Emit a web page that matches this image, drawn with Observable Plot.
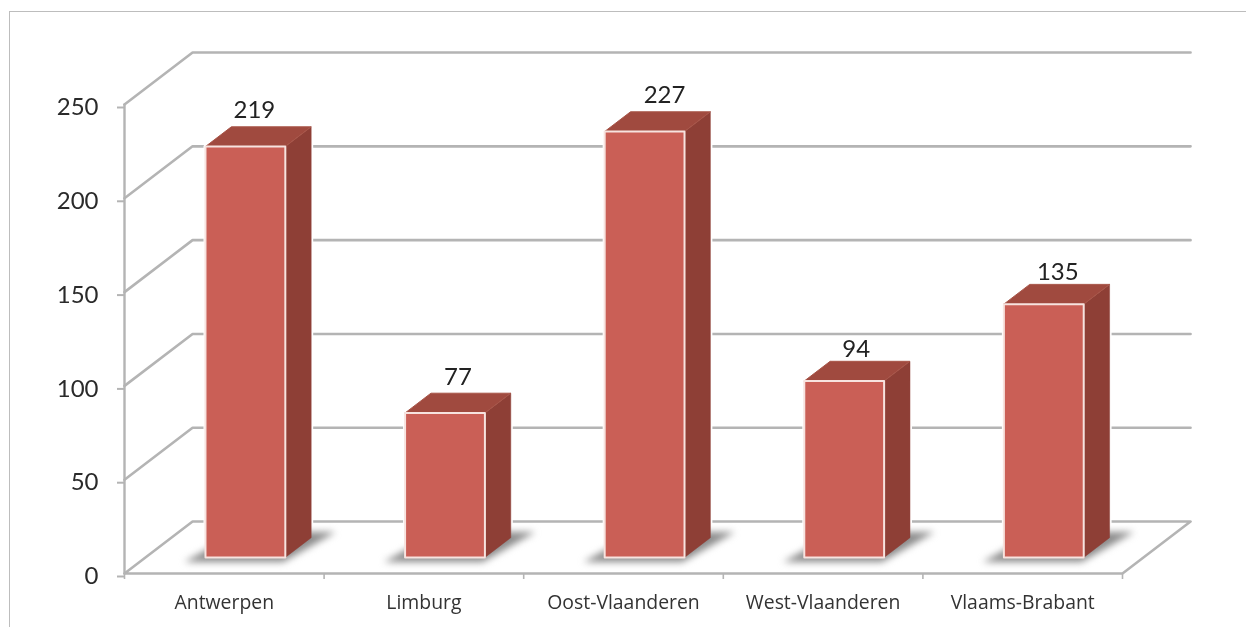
<!DOCTYPE html>
<html>
<head>
<meta charset="utf-8">
<script src="https://cdn.jsdelivr.net/npm/d3@7"></script>
<script src="https://cdn.jsdelivr.net/npm/@observablehq/plot@0.6"></script>
<style>
html,body{margin:0;padding:0;background:#fff;overflow:hidden}
#wrap{position:relative;width:1246px;height:627px;overflow:hidden}
#edge{position:absolute;left:9px;top:11px;width:1300px;height:700px;border-left:1.5px solid #bdbdbd;border-top:1.5px solid #bdbdbd}
#chart{position:absolute;left:0;top:0;filter:blur(0.7px)}
svg{display:block;background:transparent}
</style>
</head>
<body>
<div id="wrap"><div id="edge"></div><div id="chart"></div></div>
<script>
const provinces = ["Antwerpen", "Limburg", "Oost-Vlaanderen", "West-Vlaanderen", "Vlaams-Brabant"];
const counts = [219, 77, 227, 94, 135];
const valueTicks = [0, 50, 100, 150, 200, 250];
const labelShift = [0.045, 0.065, 0.1, 0.06, 0.07];
const labelLift = [0, 0, 0, -2.5, -2.2];

// Oblique projection: a point at category u, value v and depth d (0 front, 1 back)
const DX = 0.341, DY = 27.7;
const P = (u, v, d) => ({x: u + d * DX, y: v + d * DY});
const poly = (id, pts) => pts.concat([pts[0]]).map(p => ({...p, id}));

const n = provinces.length;
const grid = [];
valueTicks.forEach(v => {
  if (v === 0) return;
  grid.push(...[P(0, v, 0), P(0, v, 1), P(n, v, 1)].map(p => ({...p, id: v})));
});
const floor = poly("floor", [P(0, 0, 0), P(n, 0, 0), P(n, 0, 1), P(0, 0, 1)]);
const wall = [P(0, 0, 0), P(0, 250, 0)].map(p => ({...p, id: "wall"}));

const d0 = 0.31, d1 = 0.69, u0 = 0.3, u1 = 0.7;
const shadow = [], front = [], side = [], top_ = [], halo = [];
counts.forEach((v, i) => {
  const a = i + u0, b = i + u1;
  shadow.push(...poly(i, [P(i + 0.225, 0, 0.22), P(i + 0.72, 0, 0.22), P(i + 0.785, 0, 0.8), P(i + 0.3, 0, 0.8)]));
  front.push(...poly(i, [P(a, 0, d0), P(b, 0, d0), P(b, v, d0), P(a, v, d0)]));
  side.push(...poly(i, [P(b, 0, d0), P(b, 0, d1), P(b, v, d1), P(b, v, d0)]));
  top_.push(...poly(i, [P(a, v, d0), P(b, v, d0), P(b, v, d1), P(a, v, d1)]));
  halo.push(...poly(i, [P(a, 0, d0), P(b, 0, d0), P(b, 0, d1), P(b, v, d1), P(a, v, d1), P(a, v, d0)]));
});
const valueLabels = counts.map((v, i) => ({...P(i + 0.5 + labelShift[i], v + labelLift[i], d0), v}));
const catLabels = provinces.map((name, i) => ({x: i + 0.5, name}));

const gridColor = "#b4b4b4";
const font = "Lato, 'Open Sans', sans-serif";
const plot = Plot.plot({
  width: 1246, height: 627,
  marginLeft: 124, marginRight: 124, marginTop: 104, marginBottom: 54,
  style: {background: "transparent", fontFamily: font},
  x: {type: "linear", domain: [0, n]},
  y: {domain: [0, 250]},
  marks: [
    Plot.line(grid, {x: "x", y: "y", z: "id", stroke: gridColor, strokeWidth: 2.6}),
    Plot.line(floor, {x: "x", y: "y", z: "id", stroke: gridColor, strokeWidth: 2.6}),
    Plot.line(wall, {x: "x", y: "y", z: "id", stroke: gridColor, strokeWidth: 2.4}),
    Plot.axisY({ticks: valueTicks, tickSize: 7, tickPadding: 19, tickFormat: d => String(d), label: null,
      stroke: gridColor, strokeWidth: 2, fill: "#2a2a2a", fontSize: 24, fontFamily: font, textAnchor: "end", dy: 3}),
    Plot.axisX({ticks: d3.range(n + 1), tickSize: 6, tickFormat: () => "", label: null,
      stroke: gridColor, strokeWidth: 1.6}),
    Plot.text(catLabels, {x: "x", text: "name", frameAnchor: "bottom", dy: 35, fontSize: 19.4, fill: "#333", fontFamily: "'Open Sans', sans-serif"}),
    Plot.line(halo, {x: "x", y: "y", z: "id", fill: "#fff", stroke: "#fff", strokeWidth: 4}),
    Plot.line(shadow, {x: "x", y: "y", z: "id", fill: "#8c8c8c", stroke: "none", imageFilter: "blur(3.5px)"}),
    Plot.line(side, {x: "x", y: "y", z: "id", fill: "#8e3f36", stroke: "#8e3f36", strokeWidth: 0.5}),
    Plot.line(top_, {x: "x", y: "y", z: "id", fill: "#a04a3f", stroke: "#a85548", strokeWidth: 1}),
    Plot.line(front, {x: "x", y: "y", z: "id", fill: "#ca5f56", stroke: "#f7e3df", strokeWidth: 2}),
    Plot.text(valueLabels, {x: "x", y: "y", text: d => String(d.v), dy: -36, fontSize: 24, fill: "#222", fontFamily: font})
  ]
});
document.getElementById("chart").appendChild(plot);
</script>
</body>
</html>
